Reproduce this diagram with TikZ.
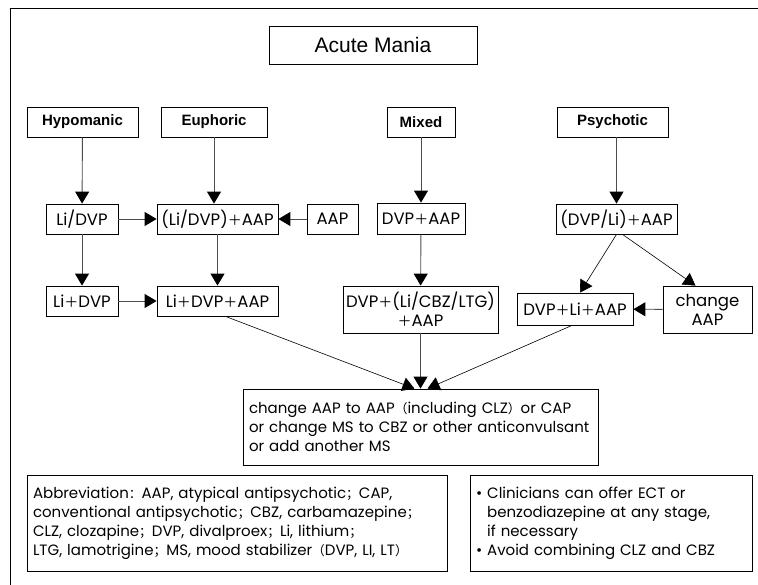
\documentclass[tikz,border=0pt]{standalone}
\usepackage{fontspec}
\setmainfont{Poppins}
\newfontfamily\headfont{Liberation Sans}
\newfontfamily\cjk[Scale=0.85]{Noto Sans CJK SC}
\usetikzlibrary{arrows.meta,calc}
\newcommand\plus{{\cjk ＋}}
\newcommand\fcolon{{\cjk ：}}
\newcommand\fsemi{{\cjk ；}}
\newcommand\fopen{{\cjk （}}
\newcommand\fclose{{\cjk ）}}

\begin{document}
\begin{tikzpicture}[x=1pt,y=-1pt,
  box/.style={draw,line width=0.8pt,inner sep=0pt,align=center,font=\fontsize{16.5}{19}\selectfont},
  head/.style={box,font=\headfont\bfseries\fontsize{15}{17}\selectfont},
  note/.style={draw,line width=0.8pt,inner sep=6pt,align=left,font=\fontsize{15}{19}\selectfont},
  arr/.style={-{Triangle[width=14pt,length=12pt,color=black]},line width=0.9pt,black!70},
  slim/.style={-{Triangle[width=14pt,length=12pt]},line width=0.6pt}
]
\useasboundingbox (0,0) rectangle (758,585);

% outer frame
\draw[line width=0.8pt] (10,8) rectangle (780,600);

% title
\node[draw,line width=0.8pt,minimum width=208pt,minimum height=38pt,
  font=\headfont\fontsize{21}{24}\selectfont] (title) at (373,45) {Acute Mania};

% subtypes
\node[head,minimum width=111pt,minimum height=30pt] (hypo) at (82.5,122) {Hypomanic};
\node[head,minimum width=106pt,minimum height=30pt] (euph) at (214,122) {Euphoric};
\node[head,minimum width=68pt,minimum height=30pt] (mixed) at (421,122) {Mixed};
\node[head,minimum width=111pt,minimum height=30pt] (psych) at (612.5,122) {Psychotic};

% first line treatment
\node[box,minimum width=72pt,minimum height=30pt] (lidvp) at (82,219) {Li/DVP};
\node[box,minimum width=121pt,minimum height=30pt] (lidvpaap) at (217.5,219) {(Li/DVP)\plus AAP};
\node[box,minimum width=51pt,minimum height=30pt] (aap) at (332.5,219) {AAP};
\node[box,minimum width=88pt,minimum height=31pt] (dvpaap) at (421,218.5) {DVP\plus AAP};
\node[box,minimum width=121pt,minimum height=30pt] (dvplia) at (616.5,219) {(DVP/Li)\plus AAP};

% second line treatment
\node[box,minimum width=72pt,minimum height=30pt] (lipdvp) at (82,301) {Li\plus DVP};
\node[box,minimum width=121pt,minimum height=30pt] (lipdvpaap) at (217.5,301) {Li\plus DVP\plus AAP};
\node[box,minimum width=155pt,minimum height=47pt] (dvpcomb) at (420.5,309.5) {DVP\plus (Li/CBZ/LTG)\\\plus AAP};
\node[box,minimum width=116pt,minimum height=32pt] (dvpliaap) at (575,309) {DVP\plus Li\plus AAP};
\node[box,minimum width=89pt,minimum height=47pt] (chaap) at (707.5,309.5) {change\\AAP};

% refractory
\node[note,text width=343pt,minimum height=76pt] (change) at (420.5,427) {\mbox{change AAP to AAP\fopen including CLZ\fclose or CAP}\\
\mbox{or change MS to CBZ or other anticonvulsant}\\
or add another MS};

% footnotes
\node[note,text width=408pt,minimum height=96pt] (abbr) at (237,523) {\mbox{Abbreviation\fcolon AAP, atypical antipsychotic\fsemi CAP,}\\
\mbox{conventional antipsychotic\fsemi CBZ, carbamazepine\fsemi}\\
\mbox{CLZ, clozapine\fsemi DVP, divalproex\fsemi Li, lithium\fsemi}\\
\mbox{LTG, lamotrigine\fsemi MS, mood stabilizer\fopen DVP, LI, LT\fclose}};
\node[note,text width=270pt,minimum height=96pt] (notes) at (611,523) {\textbullet\ Clinicians can offer ECT or\\
\phantom{\textbullet\ }benzodiazepine at any stage,\\
\phantom{\textbullet\ }if necessary\\
\textbullet\ Avoid combining CLZ and CBZ};

% connectors
\draw[arr] (hypo) -- (lidvp);
\draw[arr] (euph.south) -- (euph.south |- lidvpaap.north);
\draw[arr] (mixed) -- (dvpaap);
\draw[arr] (dvplia.north |- psych.south) -- (dvplia.north);
\draw[arr] (lidvp) -- (lidvpaap);
\draw[arr] (aap) -- (lidvpaap);
\draw[arr] (lidvp) -- (lipdvp);
\draw[arr] (lidvpaap) -- (lipdvpaap);
\draw[arr] (lipdvp) -- (lipdvpaap);
\draw[arr] (dvpaap) -- (dvpcomb);
\draw[slim] (dvplia.south) -- ($(dvpliaap.north)+(5,0)$);
\draw[slim] ($(dvplia.south)+(6,0)$) -- ($(chaap.north)+(-12,0)$);
\draw[arr] (chaap) -- (dvpliaap);
\draw[slim] ($(lipdvpaap.south)+(8,0)$) -- ($(change.north)+(-6,0)$);
\draw[arr] (dvpcomb) -- (change);
\draw[slim] ($(dvpliaap.south)+(-3,0)$) -- ($(change.north)+(7,0)$);

\end{tikzpicture}
\end{document}
